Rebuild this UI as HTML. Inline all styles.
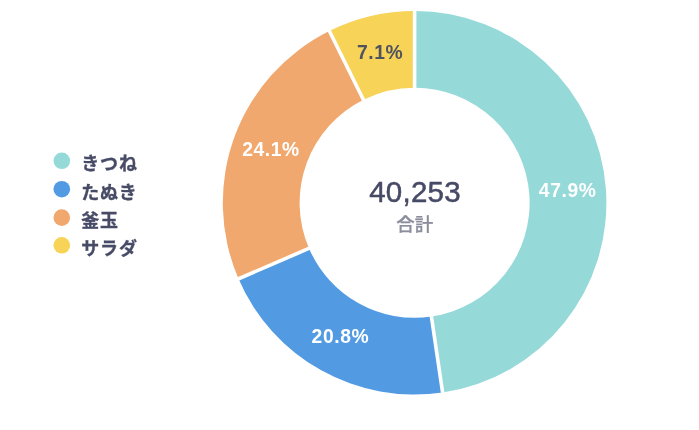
<!DOCTYPE html>
<html lang="ja"><head><meta charset="utf-8"><title>chart</title>
<style>
html,body{margin:0;padding:0;background:#fff;}
body{width:699px;height:430px;overflow:hidden;font-family:"Liberation Sans","Noto Sans CJK JP",sans-serif;}
svg{display:block}
text{font-family:"Liberation Sans","Noto Sans CJK JP",sans-serif;}
.lb{font-size:19.3px;font-weight:700;letter-spacing:0.6px;}
.lg{font-size:18px;font-weight:700;fill:#474b66;stroke:#474b66;stroke-width:0.3px;letter-spacing:0.9px;}
.tot{font-size:29.5px;fill:#474a66;stroke:#474a66;stroke-width:0.5px;letter-spacing:0.25px;}
.sub{font-size:18.5px;font-weight:500;fill:#8b8e9d;stroke:#8b8e9d;stroke-width:0.25px;}
</style></head><body>
<svg width="699" height="430" viewBox="0 0 699 430">
<path d="M414.60 11.00A191.8 191.8 0 0 1 442.62 392.54L431.40 316.57A115.0 115.0 0 0 0 414.60 87.80Z" fill="#96d9d9"/>
<path d="M442.62 392.54A191.8 191.8 0 0 1 238.51 278.82L309.02 248.38A115.0 115.0 0 0 0 431.40 316.57Z" fill="#529be3"/>
<path d="M238.51 278.82A191.8 191.8 0 0 1 329.32 31.00L363.47 99.79A115.0 115.0 0 0 0 309.02 248.38Z" fill="#f0a86e"/>
<path d="M329.32 31.00A191.8 191.8 0 0 1 414.60 11.00L414.60 87.80A115.0 115.0 0 0 0 363.47 99.79Z" fill="#f7d358"/>
<line x1="414.60" y1="8.00" x2="414.60" y2="90.80" stroke="#fff" stroke-width="3.6"/>
<line x1="443.06" y1="395.51" x2="430.96" y2="313.60" stroke="#fff" stroke-width="3.6"/>
<line x1="235.75" y1="280.01" x2="311.77" y2="247.19" stroke="#fff" stroke-width="3.6"/>
<line x1="327.99" y1="28.32" x2="364.80" y2="102.48" stroke="#fff" stroke-width="3.6"/>
<text x="567.7" y="197.3" fill="#fff" text-anchor="middle" class="lb">47.9%</text>
<text x="340.4" y="343.2" fill="#fff" text-anchor="middle" class="lb">20.8%</text>
<text x="271.0" y="155.9" fill="#fff" text-anchor="middle" class="lb">24.1%</text>
<text x="380.1" y="59.3" fill="#4f525f" text-anchor="middle" class="lb">7.1%</text>
<circle cx="61.8" cy="160.8" r="8.3" fill="#96d9d9"/><text x="81.2" y="170.1" class="lg">きつね</text>
<circle cx="61.8" cy="189.2" r="8.3" fill="#529be3"/><text x="81.2" y="198.5" class="lg">たぬき</text>
<circle cx="61.8" cy="217.6" r="8.3" fill="#f0a86e"/><text x="81.2" y="226.9" class="lg">釜玉</text>
<circle cx="61.8" cy="245.3" r="8.3" fill="#f7d358"/><text x="81.2" y="254.6" class="lg">サラダ</text>
<text x="415.0" y="201.6" text-anchor="middle" class="tot">40,253</text>
<text x="414.7" y="230.6" text-anchor="middle" class="sub">合計</text>
</svg>
</body></html>
